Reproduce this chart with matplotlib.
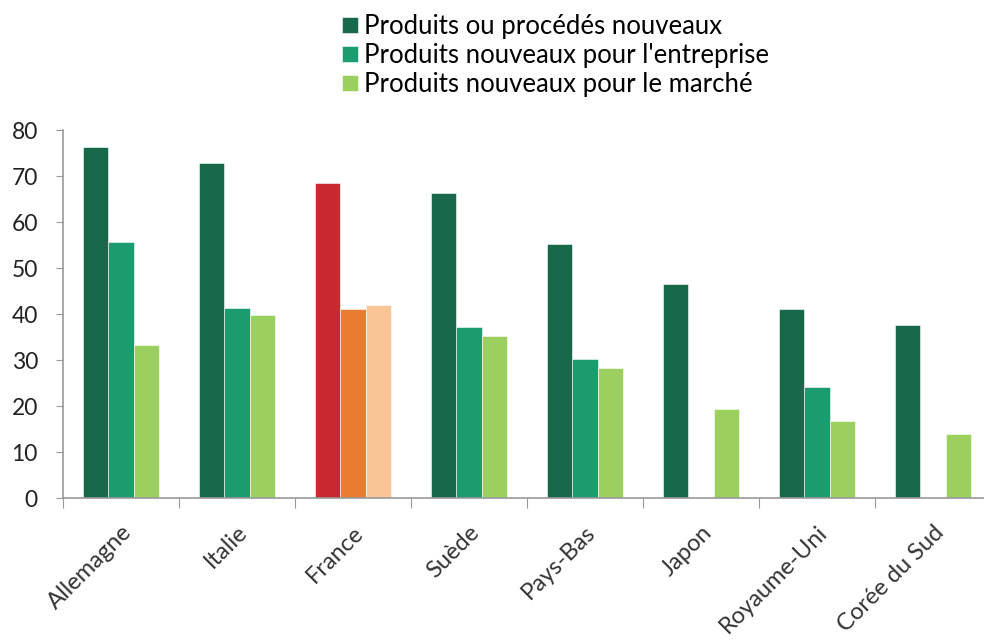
import numpy as np
import matplotlib.pyplot as plt

plt.rcParams['font.family'] = ['Lato', 'DejaVu Sans']

pays = ["Allemagne", "Italie", "France", "Suède", "Pays-Bas", "Japon", "Royaume-Uni", "Corée du Sud"]
series = ["Produits ou procédés nouveaux", "Produits nouveaux pour l'entreprise", "Produits nouveaux pour le marché"]
procedes = [76.3, 72.8, 68.4, 66.3, 55.2, 46.6, 41.0, 37.6]
entreprise = [55.6, 41.3, 41.0, 37.1, 30.3, np.nan, 24.1, np.nan]
marche = [33.3, 39.9, 42.0, 35.3, 28.3, 19.3, 16.8, 13.9]

verts = ["#17694a", "#1a9c6f", "#9bcf5e"]
france = ["#c9282e", "#e97c30", "#f9c597"]

fig = plt.figure(figsize=(9.84, 6.41), dpi=100)
ax = fig.add_axes([0.064, 0.223, 0.943, 0.574])

x = np.arange(len(pays))
w = 0.22
for k, vals in enumerate([procedes, entreprise, marche]):
    cols = [france[k] if p == "France" else verts[k] for p in pays]
    ax.bar(x + (k - 1) * w, vals, w, color=cols, edgecolor="white", linewidth=0.4, label=series[k])

ax.set_xlim(-0.5, len(pays) - 0.5)
ax.set_ylim(0, 80)
ax.set_yticks(range(0, 81, 10))
ax.tick_params(axis="y", labelsize=16.5, length=5, color="#999999", labelcolor="#222222", pad=13)

ax.set_xticks(np.arange(len(pays) + 1) - 0.5)
ax.set_xticklabels([])
ax.tick_params(axis="x", which="major", length=7, color="#999999")
ax.set_xticks(x, minor=True)
ax.set_xticklabels(pays, minor=True, rotation=45, ha="right", rotation_mode="anchor", fontsize=17, color="#333333")
ax.tick_params(axis="x", which="minor", length=0, pad=17)

for s in ["top", "right"]:
    ax.spines[s].set_visible(False)
for s in ["left", "bottom"]:
    ax.spines[s].set_color("#999999")
    ax.spines[s].set_linewidth(1.2)

fig.legend(loc="upper left", bbox_to_anchor=(0.348, 0.978), bbox_transform=fig.transFigure,
           frameon=False, fontsize=18.5, borderpad=0, borderaxespad=0,
           handlelength=0.6, handleheight=0.6, handletextpad=0.25, labelspacing=0.15)

fig.savefig("out.png", dpi=100)
